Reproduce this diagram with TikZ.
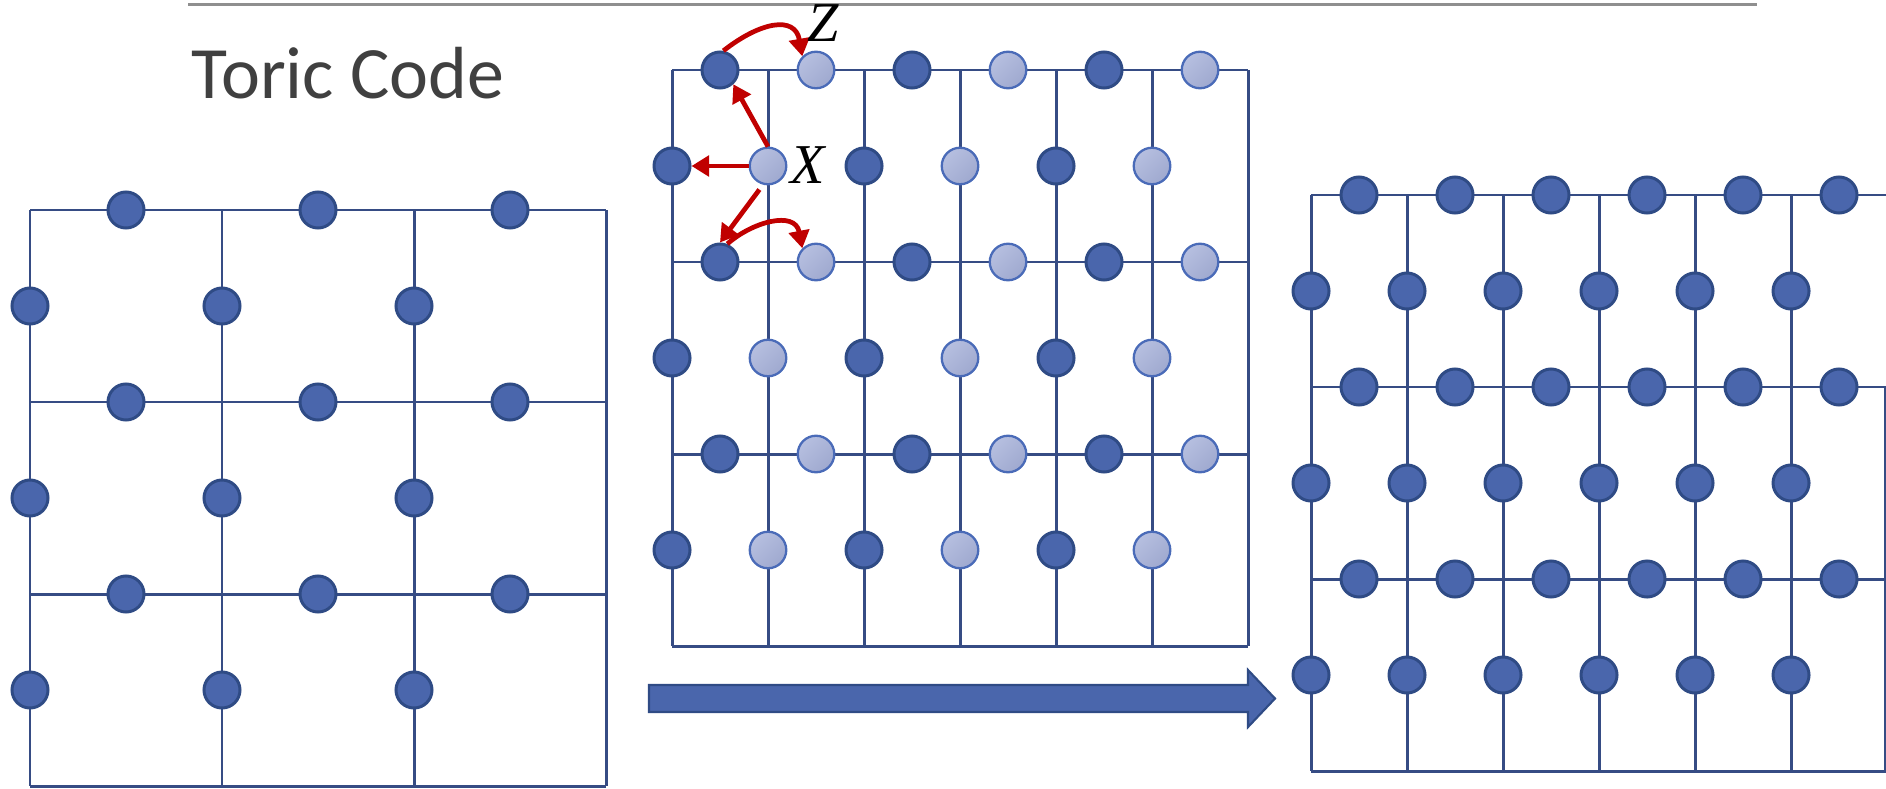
\documentclass[tikz,border=0pt]{standalone}
\usepackage{fontspec}
\usetikzlibrary{arrows.meta}
\newfontfamily\titlefont{Carlito}
\newfontfamily\opfont{Liberation Serif}
\definecolor{qdark}{HTML}{4A66AC}
\definecolor{qdarkline}{HTML}{2F4B85}
\definecolor{qlightA}{HTML}{B6BFE0}
\definecolor{qlightB}{HTML}{9FA9CF}
\definecolor{qlightline}{HTML}{4A6BB8}
\definecolor{gridc}{HTML}{364C84}
\definecolor{opred}{HTML}{C00000}
\definecolor{titlegray}{HTML}{404040}
\definecolor{rulegray}{HTML}{8F8F8F}
\tikzset{
  latt/.style={draw=gridc, line width=0.85pt},
  dq/.style={circle, inner sep=0pt, minimum size=0.36cm, fill=qdark, draw=qdarkline, line width=0.85pt},
  lq/.style={circle, inner sep=0pt, minimum size=0.365cm, top color=qlightA, bottom color=qlightB, shading angle=45, draw=qlightline, line width=0.65pt},
  oparrow/.style={draw=opred, line width=1.35pt, -{Triangle[length=5pt,width=5.8pt]}},
  oplabel/.style={inner sep=0pt, font=\opfont\itshape\fontsize{16pt}{19pt}\selectfont},
  rulefill/.style={draw=rulegray, line width=0.8pt},
  bigarrow/.style={fill=qdark, draw=qdarkline, line width=0.6pt, line join=miter}
}
\begin{document}
\begin{tikzpicture}[x=0.01cm, y=-0.01cm]
\useasboundingbox (0,0) rectangle (1886,788);

% rule under the title area
\coordinate (rA) at (188,4.7);
\coordinate (rB) at (1757,4.7);
\draw[rulefill] (rA) -- (rB);

\node[anchor=base west, inner sep=0pt, text=titlegray,
      font=\titlefont\fontsize{21pt}{25pt}\selectfont] (title) at (191,99) {Toric Code};

% ---------- left lattice: 3x3 plaquettes ----------
\foreach \i in {0,...,3}
  \foreach \j in {0,...,3}
    \coordinate (L\i\j) at ({30+192*\i},{210+192*\j});
\foreach \k in {0,...,3} {
  \draw[latt] (L0\k) -- (L3\k);
  \draw[latt] (L\k0) -- (L\k3);
}
\foreach \i in {0,1,2}
  \foreach \j in {0,1,2} {
    \node[dq] (Lh\i\j) at ({126+192*\i},{210+192*\j}) {};
    \node[dq] (Lv\i\j) at ({30+192*\i},{306+192*\j}) {};
  }

% ---------- middle lattice: two sublattices ----------
\foreach \i in {0,...,6}
  \foreach \j in {0,...,3}
    \coordinate (M\i\j) at ({672+96*\i},{70+192*\j});
\foreach \j in {0,...,3}
  \draw[latt] (M0\j) -- (M6\j);
\foreach \i in {0,...,6}
  \draw[latt] (M\i0) -- (M\i3);
\foreach \i in {0,...,5}
  \foreach \j in {0,1,2} {
    \pgfmathtruncatemacro{\parity}{mod(\i,2)}
    \ifnum\parity=0
      \node[dq] (Mh\i\j) at ({720+96*\i},{70+192*\j}) {};
      \node[dq] (Mv\i\j) at ({672+96*\i},{166+192*\j}) {};
    \else
      \node[lq] (Mh\i\j) at ({720+96*\i},{70+192*\j}) {};
      \node[lq] (Mv\i\j) at ({672+96*\i},{166+192*\j}) {};
    \fi
  }

% operator arrows around the X site
\draw[oparrow] (Mv10) -- (Mv00);
\draw[oparrow] (Mv10.north) -- (Mh00.-47);
\draw[oparrow, shorten <=0.06cm] (Mv10.-105) -- (Mh01.north);
\draw[oparrow] (Mh01.68) .. controls (752,222) and (795,210) .. (Mh11.135);
\draw[oparrow] (Mh00.80) .. controls (760,22) and (795,15) .. (Mh10.135);
\node[oplabel] (labZ) at (823.5,23.5) {Z};
\node[oplabel] (labX) at (807.5,165.5) {X};

% ---------- big arrow ----------
\draw[bigarrow] (649,685) -- (1248,685) -- (1248,670) -- (1275,698.5)
  -- (1248,727) -- (1248,712) -- (649,712) -- cycle;

% ---------- right lattice ----------
\foreach \i in {0,...,5}
  \foreach \j in {0,...,3}
    \coordinate (R\i\j) at ({1311+96*\i},{195+192*\j});
\foreach \j in {0,...,3}
  \coordinate (Re\j) at (1890,{195+192*\j});
\coordinate (Rb1) at (1885,387);
\coordinate (Rb3) at (1885,771);
\foreach \j in {0,...,3}
  \draw[latt] (R0\j) -- (Re\j);
\foreach \i in {0,...,5}
  \draw[latt] (R\i0) -- (R\i3);
\draw[latt] (Rb1) -- (Rb3);
\foreach \i in {0,...,5}
  \foreach \j in {0,1,2} {
    \node[dq] (Rh\i\j) at ({1359+96*\i},{195+192*\j}) {};
    \node[dq] (Rv\i\j) at ({1311+96*\i},{291+192*\j}) {};
  }
\end{tikzpicture}
\end{document}
